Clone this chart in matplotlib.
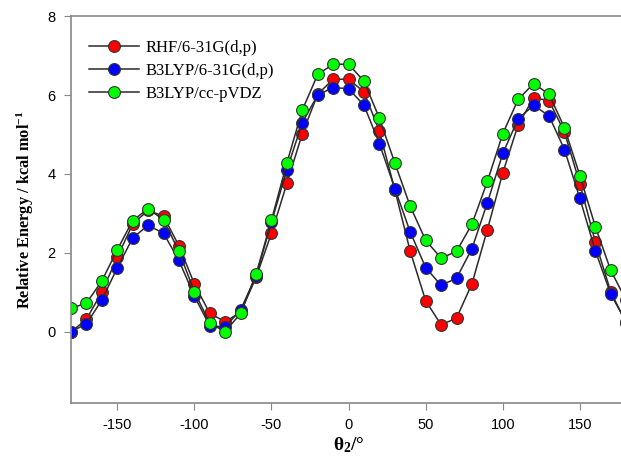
import numpy as np
import matplotlib
matplotlib.use('Agg')
import matplotlib.pyplot as plt

plt.rcParams['mathtext.fontset'] = 'custom'
plt.rcParams['mathtext.rm'] = 'Liberation Serif:bold'
plt.rcParams['mathtext.it'] = 'Liberation Serif:bold'
plt.rcParams['mathtext.bf'] = 'Liberation Serif:bold'
plt.rcParams['axes.unicode_minus'] = False

# dihedral angle theta2 (degrees)
theta = list(range(-180, 181, 10))

rhf = [0.00, 0.32, 1.01, 1.89, 2.73, 3.08, 2.93, 2.18, 1.22, 0.47, 0.26, 0.50, 1.38,
       2.50, 3.76, 5.02, 6.02, 6.40, 6.40, 6.08, 5.08, 3.60, 2.04, 0.79, 0.18, 0.35,
       1.22, 2.59, 4.03, 5.25, 5.93, 5.86, 5.06, 3.75, 2.28, 1.02, 0.22]
b3lyp_631 = [0.01, 0.20, 0.81, 1.62, 2.38, 2.70, 2.50, 1.81, 0.91, 0.15, 0.13, 0.56, 1.42,
             2.78, 4.11, 5.30, 6.00, 6.19, 6.16, 5.74, 4.77, 3.63, 2.53, 1.63, 1.18, 1.36,
             2.11, 3.27, 4.52, 5.40, 5.74, 5.47, 4.62, 3.38, 2.06, 0.96, 0.25]
b3lyp_dz = [0.60, 0.73, 1.29, 2.08, 2.82, 3.12, 2.84, 2.04, 1.02, 0.22, 0.01, 0.47, 1.46,
            2.83, 4.28, 5.62, 6.52, 6.78, 6.78, 6.35, 5.41, 4.28, 3.18, 2.32, 1.87, 2.04,
            2.73, 3.81, 5.02, 5.89, 6.29, 6.02, 5.17, 3.96, 2.67, 1.56, 0.80]

labels = ['RHF/6-31G(d,p)', 'B3LYP/6-31G(d,p)', 'B3LYP/cc-pVDZ']
colors = ['#ff0000', '#0000ff', '#00ff00']

fig = plt.figure(figsize=(6.21, 4.58), dpi=100)
ax = fig.add_axes([0.1143, 0.120, 0.894, 0.845])

for series, lab, col in zip([rhf, b3lyp_631, b3lyp_dz], labels, colors):
    ax.plot(theta, series, '-', color='#2a2a2a', lw=1.1, marker='o', ms=8.5,
            mfc=col, mec='#333333', mew=0.8, label=lab)

ax.set_xlim(-180, 180)
ax.set_ylim(-1.8, 8)
ax.set_xticks([-150, -100, -50, 0, 50, 100, 150])
ax.set_yticks([0, 2, 4, 6, 8])

for s in ax.spines.values():
    s.set_color('#888888')
    s.set_linewidth(1.2)
ax.tick_params(direction='out', length=5, color='#888888', labelsize=10.5, pad=6)
for t in ax.get_xticklabels() + ax.get_yticklabels():
    t.set_family('Liberation Sans')

ax.set_xlabel(r'$\theta_2$/°', family='Liberation Serif', fontweight='bold', fontsize=14, labelpad=2)
ax.set_ylabel(r'Relative Energy / kcal mol$^{-1}$', family='Liberation Serif',
              fontweight='bold', fontsize=11.8, labelpad=8)

leg = ax.legend(loc='upper left', frameon=False, prop={'family': 'Liberation Serif', 'size': 12},
                handlelength=3.0, handletextpad=0.4, labelspacing=0.4,
                bbox_to_anchor=(0.0, 0.985), borderaxespad=0.7)

fig.savefig('out.png', dpi=100)
